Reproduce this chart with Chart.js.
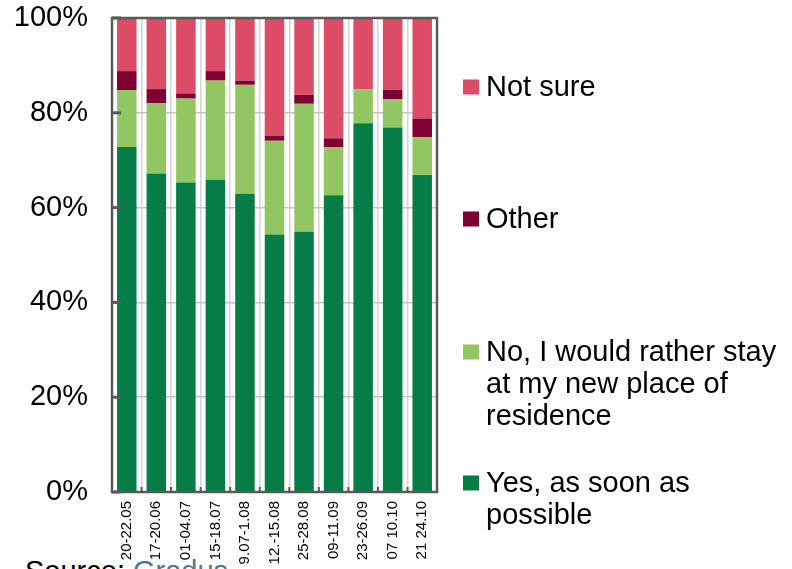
<!DOCTYPE html>
<html>
<head>
<meta charset="utf-8">
<script src="https://cdn.jsdelivr.net/npm/chart.js@4/dist/chart.umd.min.js"></script>
<style>
  html, body { margin: 0; padding: 0; background: #fff; overflow: hidden; width: 792px; height: 569px; }
  #wrap { position: relative; width: 792px; height: 569px; }
  #source { position: absolute; left: 25px; top: 557px; font: 29px/1 "Liberation Sans", Arial, sans-serif; color: #000; white-space: nowrap; }
  #source span { color: #4a7a9c; }
  canvas { position: absolute; left: 0; top: 0; }
</style>
</head>
<body>
<div id="wrap">
  <div id="source">Source: <span>Gradus</span></div>
  <canvas id="c" width="792" height="569"></canvas>
</div>
<script>
// Survey waves (date ranges)
const waves = ["20-22.05", "17-20.06", "01-04.07", "15-18.07", "9.07-1.08", "12.-15.08",
               "25-28.08", "09-11.09", "23-26.09", "07 10.10", "21 24.10"];

// Share of answers, % per wave
const yesSoon   = [72.8, 67.2, 65.3, 65.9, 62.9, 54.3, 54.9, 62.6, 77.8, 76.9, 66.9];
const noStay    = [12.0, 14.8, 17.7, 20.9, 23.0, 19.8, 27.0, 10.1,  7.1,  6.0,  8.0];
const other     = [ 4.0,  3.0,  1.1,  2.0,  0.9,  1.1,  1.9,  1.9,  0.0,  2.0,  3.9];
const notSure   = [11.2, 15.0, 15.9, 11.2, 13.2, 24.8, 16.2, 25.4, 15.1, 15.1, 21.2];

const yTicks = [0, 20, 40, 60, 80, 100];

const FONT = '"Liberation Sans", Arial, sans-serif';

// Frame around the plot with inward tick marks
const framePlugin = {
  id: 'frame',
  afterDatasetsDraw(chart) {
    const { ctx, chartArea: a, scales } = chart;
    ctx.save();
    ctx.strokeStyle = '#595959';
    // y ticks pointing inward
    ctx.lineWidth = 3;
    yTicks.forEach(v => {
      const y = scales.y.getPixelForValue(v);
      ctx.beginPath();
      ctx.moveTo(a.left, y);
      ctx.lineTo(a.left + 9, y);
      ctx.stroke();
    });
    // x ticks at category boundaries
    ctx.lineWidth = 2;
    const n = waves.length;
    for (let i = 1; i < n; i++) {
      const x = (scales.x.getPixelForValue(i - 1) + scales.x.getPixelForValue(i)) / 2;
      ctx.beginPath();
      ctx.moveTo(x, a.bottom);
      ctx.lineTo(x, a.bottom - 5);
      ctx.stroke();
    }
    ctx.lineWidth = 2.5;
    ctx.strokeRect(a.left, a.top, a.right - a.left, a.bottom - a.top);
    ctx.restore();
  }
};

// Legend on the right, top series first, with wrapped labels
const legendPlugin = {
  id: 'sideLegend',
  afterDraw(chart, args, opts) {
    const { ctx } = chart;
    ctx.save();
    ctx.font = '29px ' + FONT;
    ctx.textBaseline = 'middle';
    ctx.textAlign = 'left';
    opts.items.forEach(item => {
      const ds = chart.data.datasets[item.index];
      ctx.fillStyle = ds.backgroundColor;
      ctx.fillRect(opts.x, item.y - 7.5, 16, 15);
      ctx.fillStyle = '#000';
      item.lines.forEach((line, k) => {
        ctx.fillText(line, opts.x + 23, item.y + 1 + k * opts.lineGap);
      });
    });
    ctx.restore();
  }
};

new Chart(document.getElementById('c'), {
  type: 'bar',
  data: {
    labels: waves,
    datasets: [
      { label: 'Yes, as soon as possible', data: yesSoon, backgroundColor: '#067d46' },
      { label: 'No, I would rather stay at my new place of residence', data: noStay, backgroundColor: '#92c663' },
      { label: 'Other', data: other, backgroundColor: '#7f0032' },
      { label: 'Not sure', data: notSure, backgroundColor: '#dc4c66' }
    ]
  },
  options: {
    responsive: false,
    animation: false,
    layout: { padding: { top: 18, right: 355, left: 0, bottom: 0 } },
    datasets: { bar: { barPercentage: 0.66, categoryPercentage: 1.0, borderWidth: 0 } },
    scales: {
      x: {
        stacked: true,
        grid: { offset: true, color: '#d4d4d4', lineWidth: 1.5, drawTicks: false },
        border: { display: false },
        ticks: {
          autoSkip: false, minRotation: 90, maxRotation: 90, padding: 9,
          color: '#000', font: { family: FONT, size: 15 }
        },
        afterFit(scale) {
          scale.height = 77;
          scale.paddingLeft = 0;
          scale.paddingRight = 0;
        }
      },
      y: {
        stacked: true,
        min: 0, max: 100,
        grid: { color: '#c4c4c4', lineWidth: 1.5, drawTicks: false },
        border: { display: false },
        ticks: {
          stepSize: 20, padding: 24, color: '#000',
          font: { family: FONT, size: 29 },
          callback: v => v + '%'
        },
        afterFit(scale) {
          scale.width = 112;
          scale.paddingTop = 0;
          scale.paddingBottom = 0;
        }
      }
    },
    plugins: {
      legend: { display: false },
      tooltip: { enabled: false },
      sideLegend: {
        x: 463,
        lineGap: 32,
        items: [
          { index: 3, y: 87,  lines: ['Not sure'] },
          { index: 2, y: 219, lines: ['Other'] },
          { index: 1, y: 352, lines: ['No, I would rather stay', 'at my new place of', 'residence'] },
          { index: 0, y: 483, lines: ['Yes, as soon as', 'possible'] }
        ]
      }
    }
  },
  plugins: [framePlugin, legendPlugin]
});
</script>
</body>
</html>
